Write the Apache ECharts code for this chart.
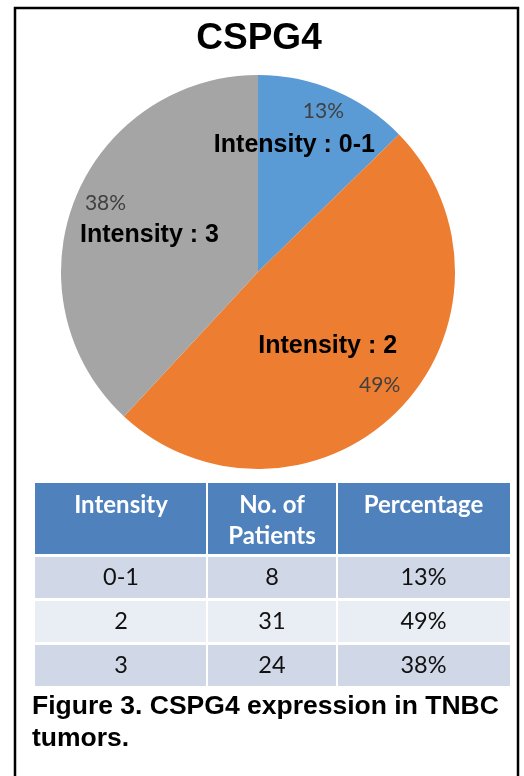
<!DOCTYPE html>
<html><head><meta charset="utf-8">
<script src="https://cdn.jsdelivr.net/npm/echarts@6/dist/echarts.min.js"></script>
<style>html,body{margin:0;padding:0;background:#fff}#c{width:524px;height:776px}</style>
</head><body><div id="c"></div>
<script>
// ---- data ----
const chartTitle = 'CSPG4';
const categories = ['Intensity : 0-1', 'Intensity : 2', 'Intensity : 3'];
const intensityLevels = ['0-1', '2', '3'];
const patients = [8, 31, 24];
const percentages = ['13%', '49%', '38%'];
const tableHeaders = ['Intensity', 'No. of\nPatients', 'Percentage'];
const captionText = 'Figure 3. CSPG4 expression in TNBC\ntumors.';

// ---- styles ----
const sliceColors = ['#5B9BD5', '#ED7D31', '#A5A5A5'];
const nameOffsets = [[-3, -33], [-3, 3], [-14, 0]];
const pctOffsets = [[26, -67], [49, 42], [-58, -32]];
const pieCenter = [258, 272], pieRadius = 197;

const chart = echarts.init(document.getElementById('c'), null, {renderer: 'canvas'});

// table graphic built from arrays
const colX = [35, 207, 337, 510];
const headerTop = 483, headerH = 71, rowH = 41, gap = 3;
const headerBg = '#4F81BD', bandBg = ['#D0D8E8', '#E9EDF4'];
const graphics = [];
graphics.push({type: 'rect', shape: {x: 15, y: 8, width: 503, height: 780}, style: {fill: 'none', stroke: '#000', lineWidth: 2.5}, silent: true});
graphics.push({type: 'text', x: 259, y: 39, style: {text: chartTitle, font: 'bold 37px "Liberation Sans", Arial, sans-serif', fill: '#000', align: 'center', verticalAlign: 'middle'}, silent: true});
const rows = intensityLevels.map((lv, i) => [lv, String(patients[i]), percentages[i]]);
for (let c = 0; c < 3; c++) {
  const x0 = colX[c] + (c ? 1 : 0), x1 = colX[c + 1] - (c < 2 ? 1 : 0);
  graphics.push({type: 'rect', shape: {x: x0, y: headerTop, width: x1 - x0, height: headerH}, style: {fill: headerBg}, silent: true});
  graphics.push({type: 'text', x: (colX[c] + colX[c + 1]) / 2, y: 489.5, style: {text: tableHeaders[c], font: 'bold 24px Lato, sans-serif', lineHeight: 31, fill: '#fff', align: 'center', verticalAlign: 'top'}, silent: true});
  rows.forEach((r, i) => {
    const y0 = headerTop + headerH + gap + i * (rowH + gap);
    graphics.push({type: 'rect', shape: {x: x0, y: y0, width: x1 - x0, height: rowH}, style: {fill: bandBg[i % 2]}, silent: true});
    graphics.push({type: 'text', x: (colX[c] + colX[c + 1]) / 2, y: y0 + rowH / 2, style: {text: r[c], font: '23.5px Lato, sans-serif', fill: '#111', align: 'center', verticalAlign: 'middle'}, silent: true});
  });
}
graphics.push({type: 'text', x: 32, y: 723, style: {text: captionText, font: 'bold 26.5px "Liberation Sans", Arial, sans-serif', lineHeight: 32, fill: '#000', align: 'left', verticalAlign: 'middle'}, silent: true});

chart.setOption({
  animation: false,
  backgroundColor: '#fff',
  graphic: graphics,
  series: [
    {
      type: 'pie', center: pieCenter, radius: [0, pieRadius], startAngle: 90, clockwise: true, silent: true,
      itemStyle: {borderWidth: 0},
      data: categories.map((n, i) => ({name: n, value: patients[i], itemStyle: {color: sliceColors[i]}, label: {offset: nameOffsets[i]}})),
      label: {show: true, position: 'inside', formatter: '{b}', fontFamily: '"Liberation Sans", Arial, sans-serif', fontWeight: 'bold', fontSize: 25, color: '#000'},
      labelLine: {show: false}, emphasis: {disabled: true}
    },
    {
      type: 'pie', center: pieCenter, radius: [0, pieRadius], startAngle: 90, clockwise: true, silent: true, z: 3,
      itemStyle: {color: 'rgba(0,0,0,0)', borderWidth: 0},
      data: categories.map((n, i) => ({name: n + ' %', value: patients[i], label: {offset: pctOffsets[i]}})),
      label: {show: true, position: 'inside', formatter: p => Math.round(p.percent) + '%', fontFamily: 'Lato, sans-serif', fontSize: 21, color: '#404040'},
      labelLine: {show: false}, emphasis: {disabled: true}
    }
  ]
});
</script></body></html>
